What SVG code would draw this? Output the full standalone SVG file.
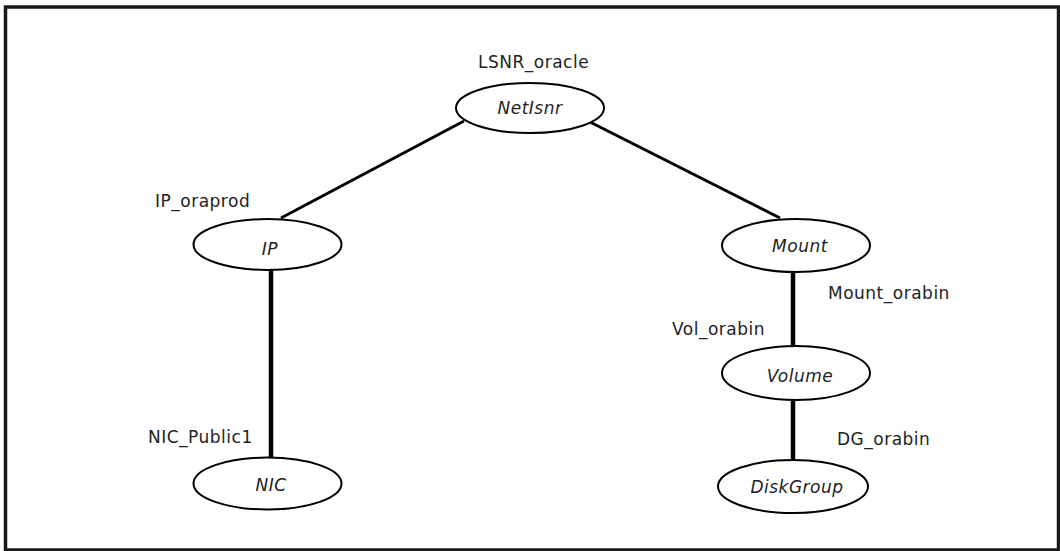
<svg xmlns="http://www.w3.org/2000/svg" width="1060" height="551" viewBox="0 0 1060 551">
<style>
.frame{fill:#fff;stroke:#1a1a1a;stroke-width:3.5}
.node ellipse{fill:#fff;stroke:#000;stroke-width:2}
.node text{font-family:"DejaVu Sans",sans-serif;font-size:17px;font-style:italic;fill:#222;text-anchor:middle;letter-spacing:0.5px}
.lbl{font-family:"DejaVu Sans",sans-serif;font-size:17px;fill:#222;letter-spacing:0.5px}
.edge{stroke:#000;fill:none}
.tick{stroke:#000;stroke-width:1}
</style>
<rect class="frame" x="5.5" y="7" width="1053" height="543"/>
<g id="connectors">
<line class="edge" x1="464" y1="121" x2="281" y2="218" stroke-width="3"/>
<line class="edge" x1="590" y1="122" x2="780" y2="218" stroke-width="3"/>
<line class="edge" x1="271" y1="270" x2="271" y2="457" stroke-width="4.5"/>
<line class="edge" x1="793" y1="272" x2="793" y2="345" stroke-width="4.5"/>
<line class="edge" x1="793" y1="400" x2="793" y2="460" stroke-width="4.5"/>
<line class="tick" x1="469" y1="118" x2="469" y2="121"/>
<line class="tick" x1="277" y1="221" x2="277" y2="224"/>
<line class="tick" x1="791" y1="393" x2="795" y2="393"/>
<line class="tick" x1="791" y1="463" x2="795" y2="463"/>
</g>
<g id="netlsnr" class="node">
<ellipse cx="530" cy="108" rx="74" ry="25"/>
<text x="530" y="114">NetIsnr</text>
</g>
<g id="ip" class="node">
<ellipse cx="267.5" cy="244.5" rx="74" ry="25.5"/>
<text x="270" y="255">IP</text>
</g>
<g id="nic" class="node">
<ellipse cx="267.5" cy="483.5" rx="74" ry="26"/>
<text x="271" y="491">NIC</text>
</g>
<g id="mount" class="node">
<ellipse cx="796" cy="245.5" rx="74" ry="26.5"/>
<text x="800" y="252">Mount</text>
</g>
<g id="volume" class="node">
<ellipse cx="796" cy="373" rx="74" ry="27"/>
<text x="800" y="382">Volume</text>
</g>
<g id="diskgroup" class="node">
<ellipse cx="793" cy="486.5" rx="75" ry="26.5"/>
<text x="797" y="493">DiskGroup</text>
</g>
<g id="labels">
<text class="lbl" x="478" y="68">LSNR_oracle</text>
<text class="lbl" x="155" y="207">IP_oraprod</text>
<text class="lbl" x="148" y="443">NIC_Public1</text>
<text class="lbl" x="828" y="299">Mount_orabin</text>
<text class="lbl" x="672" y="335">Vol_orabin</text>
<text class="lbl" x="837" y="445">DG_orabin</text>
</g>
</svg>
